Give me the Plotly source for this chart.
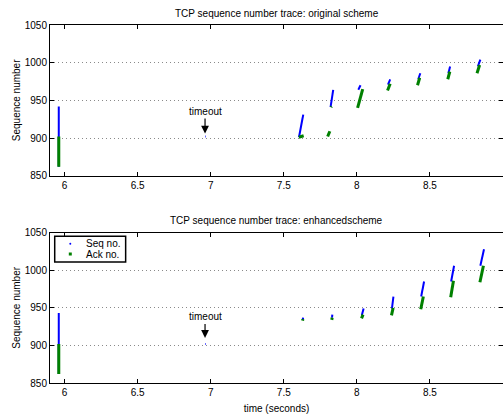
import plotly.graph_objects as go

# ---------------- data ----------------
# Top panel: original scheme. Each packet run given as (start time, start value, end time, end value)
orig_seq_t0 = [5.960, 6.962, 7.604, 7.820, 8.010, 8.213, 8.420, 8.626, 8.828]
orig_seq_v0 = [862, 902, 901, 941, 964, 971, 978, 986, 995]
orig_seq_t1 = [5.960, 6.966, 7.633, 7.838, 8.025, 8.228, 8.434, 8.638, 8.845]
orig_seq_v1 = [942, 902, 931, 964, 970, 978, 986, 995, 1004]

orig_ack_t0 = [5.960, 7.603, 7.800, 7.823, 8.005, 8.210, 8.415, 8.622, 8.822]
orig_ack_v0 = [862, 901, 902, 941, 940, 963, 970, 978, 986]
orig_ack_t1 = [5.960, 7.636, 7.815, 7.827, 8.040, 8.228, 8.430, 8.636, 8.840]
orig_ack_v1 = [902, 903, 909, 942, 965, 972, 980, 988, 997]

# Bottom panel: enhanced scheme
enh_seq_t0 = [5.960, 6.962, 7.630, 7.830, 8.034, 8.240, 8.440, 8.645, 8.845]
enh_seq_v0 = [862, 902, 934, 937, 940, 949, 965, 985, 1006]
enh_seq_t1 = [5.960, 6.966, 7.632, 7.832, 8.046, 8.250, 8.460, 8.665, 8.870]
enh_seq_v1 = [943, 902, 937, 941, 949, 965, 985, 1006, 1028]

enh_ack_t0 = [5.960, 7.628, 7.828, 8.032, 8.237, 8.437, 8.642, 8.842]
enh_ack_v0 = [862, 933, 934, 936, 940, 948, 964, 984]
enh_ack_t1 = [5.960, 7.631, 7.831, 8.042, 8.248, 8.455, 8.661, 8.866]
enh_ack_v1 = [902, 935, 937, 941, 950, 965, 986, 1006]

timeout_t = 6.961
timeout_head_top = 906
timeout_head_bottom = 910

x_tickvals = [6, 6.5, 7, 7.5, 8, 8.5, 9]
x_ticktext = ["6", "6.5", "7", "7.5", "8", "8.5", "9"]
y_tickvals = [850, 900, 950, 1000, 1050]
y_ticktext = ["850", "900", "950", "1000", "1050"]

titles = ["TCP sequence number trace: original scheme",
          "TCP sequence number trace: enhancedscheme"]
legend_labels = ["Seq no.", "Ack no."]

BLUE = "#0000ff"
GREEN = "#008000"
FONT = "Liberation Sans, Arial, Helvetica, sans-serif"


def segs(t0, v0, t1, v1):
    xs, ys = [], []
    for a, b, c, d in zip(t0, v0, t1, v1):
        xs += [a, c, None]
        ys += [b, d, None]
    return xs, ys


fig = go.Figure()

panels = [
    ("x", "y", (orig_seq_t0, orig_seq_v0, orig_seq_t1, orig_seq_v1),
     (orig_ack_t0, orig_ack_v0, orig_ack_t1, orig_ack_v1)),
    ("x2", "y2", (enh_seq_t0, enh_seq_v0, enh_seq_t1, enh_seq_v1),
     (enh_ack_t0, enh_ack_v0, enh_ack_t1, enh_ack_v1)),
]
for i, (xa, ya, s, a) in enumerate(panels):
    xs, ys = segs(*s)
    fig.add_trace(go.Scatter(x=xs, y=ys, mode="lines", xaxis=xa, yaxis=ya,
                             name=legend_labels[0], legendgroup="seq",
                             line=dict(color=BLUE, width=2), showlegend=False,
                             hoverinfo="skip"))
    xs, ys = segs(*a)
    fig.add_trace(go.Scatter(x=xs, y=ys, mode="lines", xaxis=xa, yaxis=ya,
                             name=legend_labels[1], legendgroup="ack",
                             line=dict(color=GREEN, width=3), showlegend=False,
                             hoverinfo="skip"))

axis_common = dict(showline=True, linecolor="black", linewidth=1, mirror="ticks",
                   ticks="inside", ticklen=4, tickcolor="black", zeroline=False,
                   tickfont=dict(size=10, color="black", family=FONT))

xcommon = dict(axis_common, range=[5.9, 9.0], tickvals=x_tickvals,
               ticktext=x_ticktext, showgrid=False)
ycommon = dict(axis_common, range=[850, 1050], tickvals=y_tickvals,
               ticktext=y_ticktext, showgrid=True, gridcolor="#8a8a8a",
               griddash="1px,3px", gridwidth=1,
               title=dict(text="Sequence number", font=dict(size=10, family=FONT, color="black"),
                          standoff=2))

fig.update_layout(
    width=503, height=414,
    margin=dict(l=50, r=0, t=25, b=31),
    paper_bgcolor="white", plot_bgcolor="white",
    font=dict(family=FONT, size=10, color="black"),
    xaxis=dict(xcommon, domain=[0, 1], anchor="y"),
    yaxis=dict(ycommon, domain=[0.579, 1], anchor="x"),
    xaxis2=dict(xcommon, domain=[0, 1], anchor="y2",
                title=dict(text="time (seconds)", font=dict(size=10, family=FONT, color="black"),
                           standoff=8)),
    yaxis2=dict(ycommon, domain=[0, 0.42], anchor="x2"),
    showlegend=False,
)

fig.add_annotation(text=titles[0], xref="paper", yref="paper", x=0.5, y=1.0335,
                   showarrow=False, font=dict(size=10), yanchor="middle")
fig.add_annotation(text=titles[1], xref="paper", yref="paper", x=0.5, y=0.4534,
                   showarrow=False, font=dict(size=10), yanchor="middle")

for xr, yr, head, ay in [("x", "y", timeout_head_top, -22), ("x2", "y2", timeout_head_bottom, -21)]:
    fig.add_annotation(text="timeout", xref=xr, yref=yr, x=timeout_t, y=head,
                       ax=0, ay=ay, showarrow=True, arrowhead=2, arrowsize=1.3,
                       arrowwidth=1.2, arrowcolor="black", font=dict(size=10))

# compact legend box (matplotlib style) in the lower panel
fig.add_shape(type="rect", xref="paper", yref="paper", x0=0.0104, x1=0.167,
              y0=0.338, y1=0.4098, line=dict(color="black", width=1.5),
              fillcolor="white", layer="above")
fig.add_shape(type="circle", xref="paper", yref="paper", x0=0.0426, x1=0.047,
              y0=0.3862, y1=0.3918, line=dict(color=BLUE, width=0),
              fillcolor=BLUE, layer="above")
fig.add_shape(type="rect", xref="paper", yref="paper", x0=0.0415, x1=0.0481,
              y0=0.3561, y1=0.3645, line=dict(color=GREEN, width=0),
              fillcolor=GREEN, layer="above")
for lbl, yy in zip(legend_labels, [0.389, 0.3603]):
    fig.add_annotation(text=lbl, xref="paper", yref="paper", x=0.075, y=yy,
                       xanchor="left", yanchor="middle", showarrow=False,
                       font=dict(size=10))

fig.write_html("out.html")
